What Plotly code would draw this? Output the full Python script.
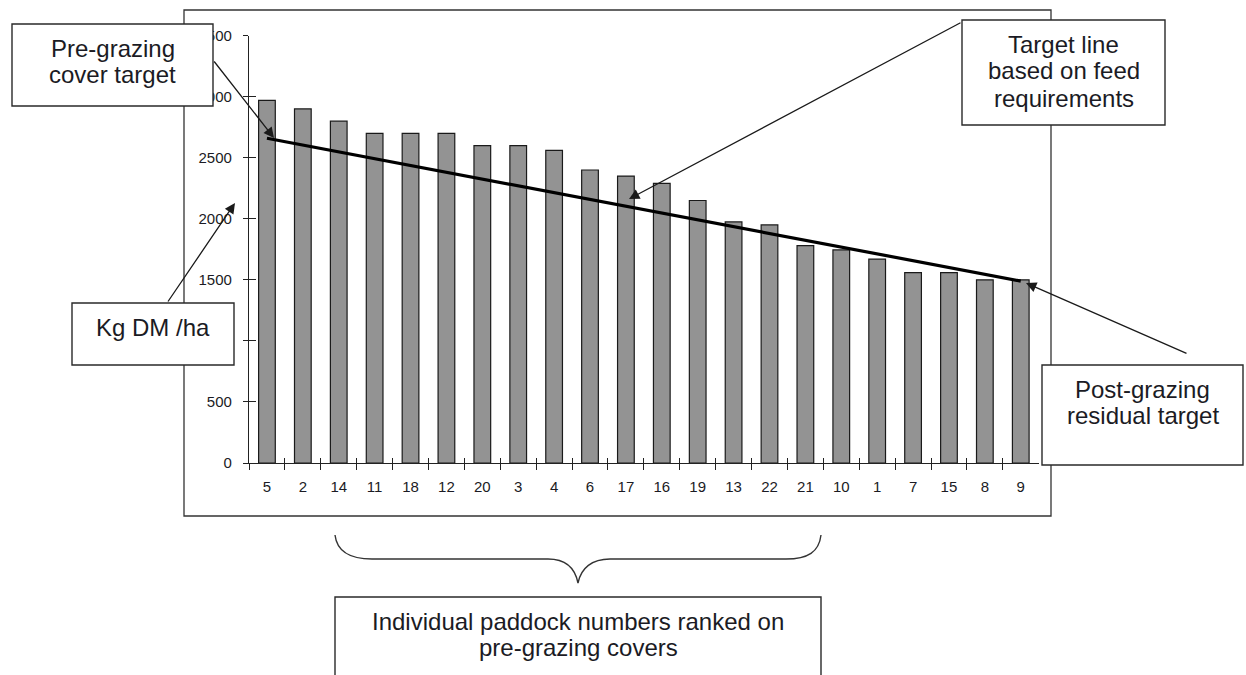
import plotly.graph_objects as go

# ---------------- data ----------------
paddocks = ["5", "2", "14", "11", "18", "12", "20", "3", "4", "6", "17",
            "16", "19", "13", "22", "21", "10", "1", "7", "15", "8", "9"]
cover_kg_dm_ha = [2970, 2900, 2800, 2700, 2700, 2700, 2600, 2600, 2560, 2400, 2350,
                  2290, 2150, 1975, 1950, 1780, 1745, 1670, 1560, 1560, 1500, 1500]
target_paddocks = ["5", "9"]
target_cover = [2660, 1490]
y_ticks = [0, 500, 1000, 1500, 2000, 2500, 3000, 3500]

W, H = 1246, 675
FONT = "Liberation Sans, Arial, Helvetica, sans-serif"
TXT = "#1b1b24"
LINE = "#222222"


def px(x):
    return x / W


def py(y):
    return 1 - y / H


fig = go.Figure()

fig.add_trace(go.Bar(
    x=paddocks, y=cover_kg_dm_ha,
    marker=dict(color="#939393", line=dict(color="#1a1a1a", width=1.2)),
    xaxis="x", yaxis="y", hoverinfo="x+y",
))
fig.add_trace(go.Scatter(
    x=target_paddocks, y=target_cover, mode="lines",
    line=dict(color="#000000", width=3.2), xaxis="x", yaxis="y",
))
# invisible trace to hold the overlay axes (inside halves of the crossing ticks)
fig.add_trace(go.Scatter(x=[None], y=[None], xaxis="x2", yaxis="y2",
                         mode="markers", showlegend=False, hoverinfo="skip"))

xdom = [px(249), px(1038.7)]
ydom = [py(463), py(35.7)]

fig.update_layout(
    width=W, height=H, autosize=False,
    margin=dict(l=0, r=0, t=0, b=0, pad=0),
    paper_bgcolor="white", plot_bgcolor="white",
    showlegend=False, bargap=0.535,
    font=dict(family=FONT, color=TXT, size=15),
    xaxis=dict(domain=xdom, type="category", range=[-0.5, 21.5],
               showline=True, linecolor=LINE, linewidth=1.3,
               ticks="outside", tickson="boundaries", ticklen=6,
               tickcolor=LINE, tickwidth=1.3, showgrid=False, zeroline=False,
               tickfont=dict(size=15, color=TXT, family=FONT),
               ticklabelstandoff=10, automargin=False, fixedrange=True),
    yaxis=dict(domain=ydom, range=[0, 3500], tickvals=y_ticks,
               showline=True, linecolor=LINE, linewidth=1.3,
               ticks="outside", ticklen=5, tickcolor=LINE, tickwidth=1.3,
               showgrid=False, zeroline=False,
               tickfont=dict(size=15, color=TXT, family=FONT),
               ticklabelstandoff=8, automargin=False, fixedrange=True),
    xaxis2=dict(domain=xdom, overlaying="x", anchor="y2", range=[-0.5, 21.5],
                tickvals=[i - 0.5 for i in range(len(paddocks) + 1)],
                ticks="inside", ticklen=5, tickcolor=LINE, tickwidth=1.3,
                showticklabels=False, showgrid=False, zeroline=False,
                showline=False, fixedrange=True),
    yaxis2=dict(domain=ydom, overlaying="y", anchor="x2", range=[0, 3500],
                tickvals=y_ticks, ticks="inside", ticklen=7,
                tickcolor=LINE, tickwidth=1.3, showticklabels=False,
                showgrid=False, zeroline=False, showline=False,
                fixedrange=True),
)

shapes = []
# outer chart frame
shapes.append(dict(type="rect", xref="paper", yref="paper",
                   x0=px(184), x1=px(1051), y0=py(516), y1=py(10),
                   line=dict(color="#333333", width=1.3), layer="above"))


def box(x0, y0, x1, y1):
    shapes.append(dict(type="rect", xref="paper", yref="paper",
                       x0=px(x0), x1=px(x1), y0=py(y1), y1=py(y0),
                       fillcolor="white", line=dict(color="#2a2a2a", width=1.4),
                       layer="above"))


box(12, 24, 213, 106)        # Pre-grazing cover target
box(962, 20, 1165, 125)      # Target line ...
box(72, 303, 234, 365)       # Kg DM /ha
box(1042, 365, 1243, 465)    # Post-grazing residual target
box(335, 597, 821, 690)      # Individual paddock numbers ...

# curly brace under the axis
pts = [("M", [(335, 535)]),
       ("C", [(337, 552), (350, 559), (372, 559)]),
       ("L", [(548, 559)]),
       ("C", [(566, 559), (575, 568), (578, 583)]),
       ("C", [(581, 568), (592, 559), (610, 559)]),
       ("L", [(786, 559)]),
       ("C", [(808, 559), (819, 552), (821, 535)])]
path = " ".join(cmd + " " + " ".join(f"{px(a):.5f},{py(b):.5f}" for a, b in p)
                for cmd, p in pts)
shapes.append(dict(type="path", xref="paper", yref="paper", path=path,
                   line=dict(color="#333333", width=1.4), layer="above"))
fig.update_layout(shapes=shapes)

ann = []


def text_line(s, cx, cy):
    ann.append(dict(text=s, xref="paper", yref="paper", x=px(cx), y=py(cy),
                    xanchor="center", yanchor="middle", showarrow=False,
                    font=dict(size=24, family=FONT, color=TXT)))


def arrow(hx, hy, tx, ty):
    ann.append(dict(text="", xref="paper", yref="paper", x=px(hx), y=py(hy),
                    ax=tx - hx, ay=ty - hy, axref="pixel", ayref="pixel",
                    showarrow=True, arrowhead=2, arrowsize=1.6, arrowwidth=1.3,
                    arrowcolor="#1a1a1a", standoff=0, startstandoff=0))


text_line("Pre-grazing", 112.5, 48)
text_line("cover target", 112.5, 74)
text_line("Target line", 1063.5, 44)
text_line("based on feed", 1063.5, 71)
text_line("requirements", 1063.5, 98)
text_line("Kg DM /ha", 153, 328)
text_line("Post-grazing", 1142.5, 389)
text_line("residual target", 1142.5, 415)
text_line("Individual paddock numbers ranked on", 578, 621)
text_line("pre-grazing covers", 578, 647)

arrow(274, 138, 213, 60)
arrow(235, 203, 167, 303)
arrow(629, 199, 962, 22)
arrow(1026, 283, 1188, 354)

fig.update_layout(annotations=ann)

fig.write_html(
    "out.html",
    config={"displayModeBar": False},
    post_script="document.body.style.margin='0';document.body.style.overflow='hidden';",
)
